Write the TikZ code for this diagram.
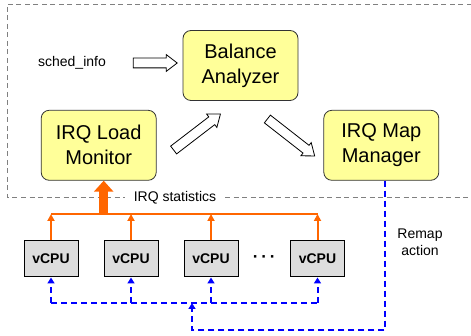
\documentclass[tikz,border=0pt]{standalone}
\usepackage{fontspec}
\setmainfont{Liberation Sans}
\usetikzlibrary{shapes.arrows,arrows.meta,positioning,calc}
\definecolor{boxyellow}{RGB}{255,255,153}
\definecolor{cpugray}{RGB}{221,221,221}
\definecolor{statorange}{RGB}{255,102,0}
\definecolor{remapblue}{RGB}{0,0,255}

\begin{document}
\begin{tikzpicture}[
    x=1pt, y=-1pt,
    node distance=25pt,
    proc/.style={rectangle, rounded corners=8pt, draw=black!80, line width=0.8pt, fill=boxyellow, minimum width=115pt, minimum height=70pt, align=center, font=\fontsize{20}{25}\selectfont},
    cpu/.style={rectangle, draw, line width=1pt, fill=cpugray, minimum width=54pt, minimum height=36pt, font=\fontsize{14}{16}\selectfont\bfseries},
    lbl/.style={font=\fontsize{14}{17}\selectfont, align=center},
    flow/.style={single arrow, draw, line width=0.8pt, fill=white, inner xsep=0pt, inner ysep=4.5pt, single arrow head extend=3.5pt, single arrow tip angle=75},
    stat/.style={-{Triangle[length=7pt,width=7pt]}, statorange, line width=2pt},
    remap/.style={-{Triangle[length=6pt,width=7pt]}, remapblue, line width=2pt, dash pattern=on 6pt off 4pt}
]
\useasboundingbox (0,0) rectangle (471,336);
\draw[black!50, line width=0.8pt, dash pattern=on 5pt off 3.5pt] (480,4) -| (7,197) -- (480,197);

\node[proc] (bal) at (240.5,65.5) {Balance\\Analyzer};
\node[proc, below left=9pt and 26pt of bal] (mon) {IRQ Load\\Monitor};
\node[proc, below right=9pt and 25pt of bal] (mgr) {IRQ Map\\Manager};
\node[lbl] (sched) at (72,63) {sched\_info};
\node[flow, minimum height=44pt] (in) at (152,63) {};
\node[flow, minimum height=59pt, rotate=37.5] (up) at (194.5,134) {};
\node[flow, minimum height=60pt, rotate=-38] (down) at (288.5,135.5) {};
\node[lbl, fill=white, inner xsep=9pt, inner ysep=1pt] (stats) at (175,198) {IRQ statistics};

\node[cpu] (cpu1) at (51,259) {vCPU};
\node[cpu, right=of cpu1] (cpu2) {vCPU};
\node[cpu, right=of cpu2] (cpu3) {vCPU};
\node[cpu, right=51.5pt of cpu3] (cpu4) {vCPU};
\node[font=\fontsize{17}{17}\selectfont\bfseries] (dots) at ($(cpu3.east)!0.5!(cpu4.west)$) {·\,·\,·};
\node[lbl] (act) at (420,242) {Remap\\action};

\coordinate (sbus) at (0,214);
\coordinate (tap) at ([xshift=5pt]mon.south);
\draw[statorange, line width=2pt] (cpu1.north |- sbus) -- (cpu4.north |- sbus);
\foreach \i in {1,...,4}
    \draw[stat] (cpu\i.north) -- (cpu\i.north |- sbus);
\draw[statorange, line width=9pt, -{Triangle[length=11pt,width=19pt]}] (tap |- sbus) -- (tap);

\coordinate (split) at (192,303);
\coordinate (drop) at ([xshift=4pt]mgr.south);
\draw[remap] (drop) -- ++(0,149) -| (split);
\draw[remapblue, line width=2pt, dash pattern=on 6pt off 4pt] (cpu1.south |- split) -- (cpu4.south |- split);
\foreach \i in {1,...,4}
    \draw[remap] (cpu\i.south |- split) -- (cpu\i.south);
\end{tikzpicture}
\end{document}
